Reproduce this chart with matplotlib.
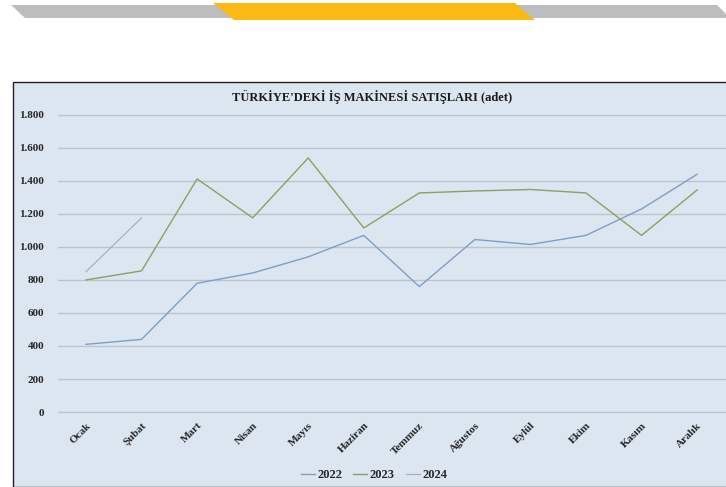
import matplotlib
matplotlib.use('Agg')
import matplotlib.pyplot as plt
from matplotlib.patches import Polygon, Rectangle

# Monthly sales values
months = ['Ocak', 'Şubat', 'Mart', 'Nisan', 'Mayıs', 'Haziran', 'Temmuz',
          'Ağustos', 'Eylül', 'Ekim', 'Kasım', 'Aralık']
sales_2022 = [410, 440, 780, 842, 940, 1070, 760, 1045, 1015, 1070, 1230, 1440]
sales_2023 = [800, 855, 1412, 1176, 1539, 1115, 1327, 1339, 1348, 1327, 1070, 1345]
sales_2024 = [850, 1176]
y_ticks = [0, 200, 400, 600, 800, 1000, 1200, 1400, 1600, 1800]
y_tick_labels = ['0', '200', '400', '600', '800', '1.000', '1.200', '1.400', '1.600', '1.800']

W, H = 726, 487


def fx(px):
    return px / W


def fy(py):
    return 1 - py / H


fig = plt.figure(figsize=(W / 100, H / 100), dpi=100)
fig.patch.set_facecolor('white')

# Decorative header bars
grey_bar = [(11, 5), (717, 5), (726, 14), (726, 18), (25, 18)]
yellow_bar = [(213, 3), (515, 3), (535, 20), (234, 20)]
fig.patches.append(Polygon([(fx(x), fy(y)) for x, y in grey_bar], closed=True,
                           transform=fig.transFigure, facecolor='#bcbdbf', edgecolor='none', zorder=-3))
fig.patches.append(Polygon([(fx(x), fy(y)) for x, y in yellow_bar], closed=True,
                           transform=fig.transFigure, facecolor='#fbb914', edgecolor='none', zorder=-2))

# Chart box background
fig.patches.append(Rectangle((fx(13), 0), 1 - fx(13) + 0.01, fy(82), transform=fig.transFigure,
                             facecolor='#dce6f1', edgecolor='#222222', linewidth=1.0, zorder=-1))

ax = fig.add_axes([fx(58), fy(414), 1 - fx(58), (414 - 100) / H])
ax.set_facecolor('none')

x = list(range(len(months)))
ax.plot(x, sales_2022, color='#7f9ec4', lw=1.0, label='2022')
ax.plot(x, sales_2023, color='#8d9f63', lw=1.0, label='2023')
ax.plot(x[:len(sales_2024)], sales_2024, color='#a9a6bd', lw=0.8, label='2024')

ax.set_xlim(-0.504, 11.52)
ax.set_ylim(-12, 1890)
ax.set_yticks(y_ticks)
ax.set_yticklabels(y_tick_labels)
ax.set_xticks(x)
ax.set_xticklabels(months, rotation=45, ha='right', rotation_mode='anchor')
ax.tick_params(length=0, pad=10, labelsize=8, labelcolor='#262626')
ax.tick_params(axis='x', pad=5)
for lbl in ax.get_xticklabels() + ax.get_yticklabels():
    lbl.set_fontweight('bold')
    lbl.set_family('Liberation Serif')

ax.grid(axis='y', color='#bcc4cd', lw=1.0)
ax.set_axisbelow(True)
for s in ax.spines.values():
    s.set_visible(False)

fig.text(fx(372), fy(97), "TÜRKİYE'DEKİ İŞ MAKİNESİ SATIŞLARI (adet)", ha='center', va='center',
         fontsize=9, fontweight='bold', family='Liberation Serif', color='#1a1a1a')

leg = fig.legend(loc='center', bbox_to_anchor=(fx(374), fy(475)), ncol=3, frameon=False,
                 handlelength=1.1, handletextpad=0.2, columnspacing=0.9,
                 prop={'family': 'Liberation Serif', 'weight': 'bold', 'size': 9})
for t in leg.get_texts():
    t.set_color('#262626')

fig.savefig('out.png', dpi=100)
